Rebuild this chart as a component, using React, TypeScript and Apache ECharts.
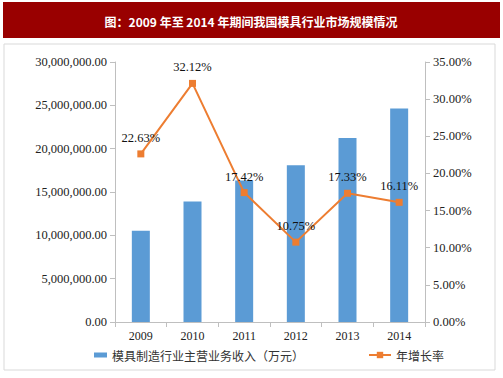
import React, { useEffect, useRef } from "react";
import * as echarts from "echarts";

const years = ["2009", "2010", "2011", "2012", "2013", "2014"];
const revenue = [10530000, 13910000, 16330000, 18090000, 21220000, 24640000];
const growth = [22.63, 32.12, 17.42, 10.75, 17.33, 16.11];
const barName = "模具制造行业主营业务收入（万元）";
const lineName = "年增长率";
const titleText = "图：2009 年至 2014 年期间我国模具行业市场规模情况";

const serif = "'Liberation Serif', 'Times New Roman', serif";
const cjk = "'Noto Sans CJK SC', sans-serif";

function fmtMoney(v: number): string {
  return v.toLocaleString("en-US", { minimumFractionDigits: 2, maximumFractionDigits: 2 });
}

export default function App() {
  const ref = useRef<HTMLDivElement>(null);
  useEffect(() => {
    if (!ref.current) return;
    const chart = echarts.init(ref.current, undefined, { renderer: "svg" });
    chart.setOption({
      animation: false,
      backgroundColor: "#ffffff",
      graphic: [
        {
          type: "rect",
          shape: { x: 4, y: 44, width: 491, height: 326 },
          style: { fill: "none", stroke: "#D9D9D9", lineWidth: 1 },
          silent: true,
        },
        {
          type: "rect",
          shape: { x: 3, y: 2, width: 497, height: 36 },
          style: { fill: "#990000" },
          silent: true,
        },
        {
          type: "text",
          x: 251,
          y: 21,
          style: {
            text: titleText,
            fill: "#ffffff",
            font: `bold 12px ${cjk}`,
            textAlign: "center",
            textVerticalAlign: "middle",
          },
          silent: true,
        },
      ],
      grid: { left: 115, right: 78, top: 62, bottom: 56, containLabel: false },
      legend: [
        {
          data: [barName],
          left: 89,
          top: 344,
          itemWidth: 13,
          itemHeight: 5,
          itemGap: 3,
          icon: "rect",
          textStyle: { fontFamily: cjk, fontSize: 12, color: "#333" },
        },
        {
          data: [lineName],
          left: 363,
          top: 344,
          itemWidth: 22,
          itemHeight: 8,
          textStyle: { fontFamily: cjk, fontSize: 12, color: "#333" },
        },
      ],
      xAxis: {
        type: "category",
        data: years,
        axisLine: { lineStyle: { color: "#BFBFBF" } },
        axisTick: { show: true, length: 5, lineStyle: { color: "#BFBFBF" } },
        axisLabel: { fontFamily: serif, fontSize: 12, color: "#222", margin: 8 },
      },
      yAxis: [
        {
          type: "value",
          min: 0,
          max: 30000000,
          interval: 5000000,
          splitLine: { show: false },
          axisLine: { show: true, lineStyle: { color: "#BFBFBF" } },
          axisTick: { show: true, length: 5, lineStyle: { color: "#BFBFBF" } },
          axisLabel: {
            fontFamily: serif,
            fontSize: 12.5,
            color: "#222",
            margin: 8,
            formatter: (v: number) => fmtMoney(v),
          },
        },
        {
          type: "value",
          min: 0,
          max: 35,
          interval: 5,
          position: "right",
          splitLine: { show: false },
          axisLine: { show: true, lineStyle: { color: "#BFBFBF" } },
          axisTick: { show: true, length: 5, lineStyle: { color: "#BFBFBF" } },
          axisLabel: {
            fontFamily: serif,
            fontSize: 12.5,
            color: "#222",
            margin: 8,
            formatter: (v: number) => v.toFixed(2) + "%",
          },
        },
      ],
      series: [
        {
          name: barName,
          type: "bar",
          data: revenue,
          barWidth: 18,
          itemStyle: { color: "#5B9BD5" },
        },
        {
          name: lineName,
          type: "line",
          yAxisIndex: 1,
          data: growth,
          symbol: "rect",
          symbolSize: 7,
          lineStyle: { color: "#ED7D31", width: 2 },
          itemStyle: { color: "#ED7D31" },
          label: {
            show: true,
            position: "top",
            distance: 6,
            fontFamily: serif,
            fontSize: 12.5,
            color: "#111",
            formatter: (p: any) => p.value.toFixed(2) + "%",
          },
        },
      ],
    });
    return () => chart.dispose();
  }, []);
  return (
    <div
      ref={ref}
      style={{ position: "fixed", left: 0, top: 0, width: 503, height: 378 }}
    />
  );
}
